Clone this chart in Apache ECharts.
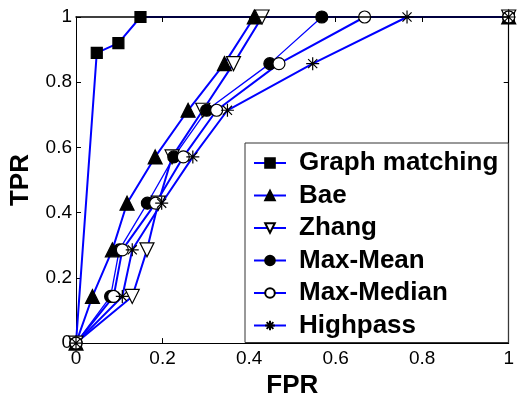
<!DOCTYPE html>
<html><head><meta charset="utf-8">
<script src="https://cdn.jsdelivr.net/npm/echarts@6/dist/echarts.min.js"></script>
<style>html,body{margin:0;padding:0;background:#fff}#c{width:517px;height:404px}</style>
</head><body><div id="c"></div>
<script>
var xTicks = [0, 0.2, 0.4, 0.6, 0.8, 1];
var yTicks = [0, 0.2, 0.4, 0.6, 0.8, 1];
var tprLevels = [0, 0.143, 0.286, 0.429, 0.571, 0.714, 0.857, 1, 1];

var gmFPR = [0, 0.048, 0.098, 0.149, 1];
var gmTPR = [0, 0.89, 0.92, 1, 1];
var baeFPR = [0, 0.038, 0.084, 0.118, 0.183, 0.259, 0.343, 0.412, 1];
var zhangFPR = [0, 0.130, 0.164, 0.19, 0.222, 0.293, 0.364, 0.43, 1];
var maxMeanFPR = [0, 0.080, 0.10, 0.165, 0.226, 0.302, 0.448, 0.568, 1];
var maxMedianFPR = [0, 0.087, 0.107, 0.184, 0.248, 0.325, 0.469, 0.667, 1];
var highpassFPR = [0, 0.107, 0.13, 0.198, 0.27, 0.35, 0.547, 0.765, 1];

function pts(xs, ys) { return xs.map(function (x, i) { return [x, ys[i]]; }); }
var FONT = 'Arial, "Liberation Sans", sans-serif';
var star = 'path://M10,0 L10,20 M0,10 L20,10 M3,3 L17,17 M17,3 L3,17';

function ser(name, data, symbol, size, fill, lw, extra) {
  var s = {
    name: name, type: 'line', data: data, symbol: symbol, symbolSize: size,
    clip: false, z: 3,
    lineStyle: { color: '#0000ff', width: lw },
    itemStyle: { color: fill, borderColor: '#000', borderWidth: 1.2 }
  };
  if (extra) for (var k in extra) s[k] = extra[k];
  return s;
}
function lbl(v) { return String(+v.toFixed(1)); }

var chart = echarts.init(document.getElementById('c'), null, { renderer: 'canvas' });
chart.setOption({
  animation: false,
  textStyle: { fontFamily: FONT },
  grid: { left: 75, right: 5, top: 17, bottom: 54, show: false },
  xAxis: [{
    type: 'value', min: 0, max: 1, interval: 0.2, position: 'bottom',
    name: 'FPR', nameLocation: 'middle', nameGap: 27,
    nameTextStyle: { fontFamily: FONT, fontSize: 26, fontWeight: 'bold', color: '#000' },
    axisLine: { onZero: false, lineStyle: { color: '#000' } },
    axisTick: { inside: true, length: 5, lineStyle: { color: '#000' } },
    axisLabel: { fontFamily: FONT, fontSize: 19, color: '#000', margin: 6, formatter: lbl },
    splitLine: { show: false }
  }, {
    type: 'value', min: 0, max: 1, interval: 0.2, position: 'top', zlevel: 1,
    axisLine: { onZero: false, lineStyle: { color: '#000', width: 1.5 } },
    axisTick: { inside: true, length: 5, lineStyle: { color: '#000' } },
    axisLabel: { show: false }, splitLine: { show: false }
  }],
  yAxis: [{
    type: 'value', min: 0, max: 1, interval: 0.2, position: 'left',
    name: 'TPR', nameLocation: 'middle', nameGap: 42,
    nameTextStyle: { fontFamily: FONT, fontSize: 26, fontWeight: 'bold', color: '#000' },
    axisLine: { onZero: false, lineStyle: { color: '#000' } },
    axisTick: { inside: true, length: 5, lineStyle: { color: '#000' } },
    axisLabel: { fontFamily: FONT, fontSize: 19, color: '#000', margin: 4, formatter: lbl },
    splitLine: { show: false }
  }, {
    type: 'value', min: 0, max: 1, interval: 0.2, position: 'right',
    axisLine: { onZero: false, lineStyle: { color: '#000', width: 1.2 } },
    axisTick: { inside: true, length: 5, lineStyle: { color: '#000' } },
    axisLabel: { show: false }, splitLine: { show: false }
  }],
  legend: {
    orient: 'vertical', left: 245, top: 143, zlevel: 2,
    padding: [7, 10, 4, 8], itemGap: 6.5, itemWidth: 32, itemHeight: 12,
    backgroundColor: '#fff', borderColor: '#333', borderWidth: 1,
    textStyle: { fontFamily: FONT, fontSize: 26, fontWeight: 'bold', color: '#000', padding: [0, 0, 0, 8] },
    data: ['Graph matching', 'Bae', 'Zhang', 'Max-Mean', 'Max-Median', 'Highpass']
  },
  series: [
    ser('Graph matching', pts(gmFPR, gmTPR), 'rect', 11, '#000', 2),
    ser('Bae', pts(baeFPR, tprLevels), 'triangle', 14, '#000', 2),
    ser('Zhang', pts(zhangFPR, tprLevels), 'triangle', 14, '#fff', 2, { symbolRotate: 180 }),
    ser('Max-Mean', pts(maxMeanFPR, tprLevels), 'circle', 12, '#000', 1.3),
    ser('Max-Median', pts(maxMedianFPR, tprLevels), 'circle', 12, '#fff', 2),
    ser('Highpass', pts(highpassFPR, tprLevels), star, 13, 'none', 2)
  ]
});
</script></body></html>
